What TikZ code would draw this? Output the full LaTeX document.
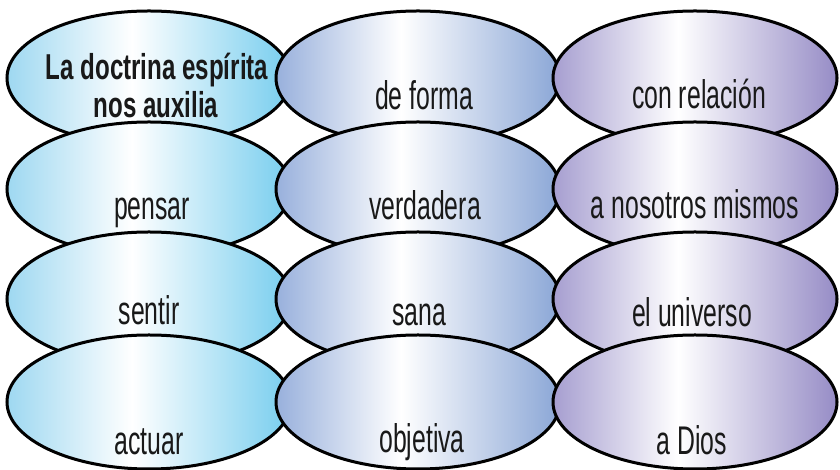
\documentclass[tikz,border=0pt]{standalone}
\usepackage{fontspec}
\setmainfont[FakeStretch=0.62]{Liberation Sans}
\newfontfamily\boldfam[FakeStretch=0.67]{Liberation Sans}
\usetikzlibrary{shapes.geometric}
\definecolor{aL}{RGB}{158,216,241}
\definecolor{aR}{RGB}{118,205,238}
\definecolor{bL}{RGB}{152,176,220}
\definecolor{bR}{RGB}{138,166,214}
\definecolor{cL}{RGB}{166,158,208}
\definecolor{cR}{RGB}{150,140,198}
\definecolor{txt}{RGB}{25,25,25}
\pgfdeclarehorizontalshading{shA}{100bp}{color(0bp)=(aL); color(25bp)=(aL); color(47bp)=(white); color(75bp)=(aR); color(100bp)=(aR)}
\pgfdeclarehorizontalshading{shB}{100bp}{color(0bp)=(bL); color(25bp)=(bL); color(47bp)=(white); color(75bp)=(bR); color(100bp)=(bR)}
\pgfdeclarehorizontalshading{shC}{100bp}{color(0bp)=(cL); color(25bp)=(cL); color(47bp)=(white); color(75bp)=(cR); color(100bp)=(cR)}
\tikzset{
  oval/.style={ellipse, draw=black, line width=3pt, inner sep=0pt, outer sep=0pt,
    minimum width=284pt, minimum height=134pt, shade},
  ovA/.style={oval, shading=shA},
  ovB/.style={oval, shading=shB},
  ovC/.style={oval, shading=shC},
  lbl/.style={anchor=base, inner sep=0pt, text=txt, font=\fontsize{40}{44}\selectfont},
  lblb/.style={lbl, font=\boldfam\fontsize{36}{40}\selectfont\bfseries}
}
\begin{document}
\begin{tikzpicture}[x=1pt, y=1pt]
\useasboundingbox (0,0) rectangle (840,470);
% row 1
\node[ovA] (e11) at (149,392) {};
\node[lblb] (t11a) at (157,390) {La doctrina espírita};
\node[lblb] (t11b) at (156,352) {nos auxilia};
\node[ovB] (e12) at (418,392) {};
\node[lbl] (t12) at (424,360) {de forma};
\node[ovC] (e13) at (695,392) {};
\node[lbl] (t13) at (699,361) {con relación};
% row 2
\node[ovA] (e21) at (149,281) {};
\node[lbl] (t21) at (152,250) {pensar};
\node[ovB] (e22) at (418,281) {};
\node[lbl] (t22) at (425,250) {verdadera};
\node[ovC] (e23) at (695,281) {};
\node[lbl] (t23) at (695,251) {a nosotros mismos};
% row 3
\node[ovA] (e31) at (149,171) {};
\node[lbl] (t31) at (149,145) {sentir};
\node[ovB] (e32) at (418,171) {};
\node[lbl] (t32) at (419,144) {sana};
\node[ovC] (e33) at (695,171) {};
\node[lbl] (t33) at (692,143) {el universo};
% row 4
\node[ovA] (e41) at (149,68) {};
\node[lbl] (t41) at (149,15) {actuar};
\node[ovB] (e42) at (418,68) {};
\node[lbl] (t42) at (422,17) {objetiva};
\node[ovC] (e43) at (695,68) {};
\node[lbl] (t43) at (692,15) {a Dios};
\end{tikzpicture}
\end{document}
